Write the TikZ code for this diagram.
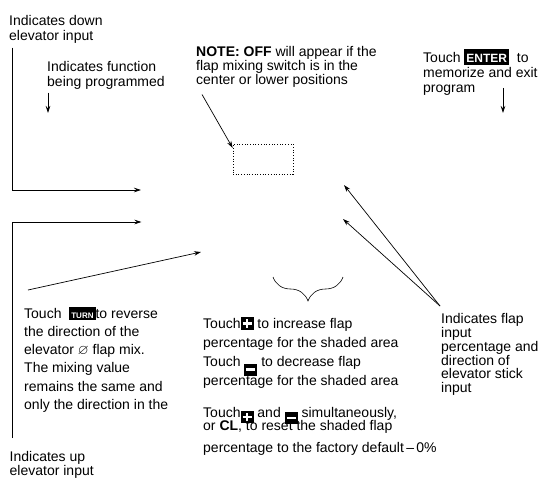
\documentclass[tikz,border=0pt]{standalone}
\usepackage{amssymb}
\usepackage{fontspec}
\setmainfont{Liberation Sans}
\usetikzlibrary{arrows.meta,positioning,calc,decorations.pathreplacing}

\newcommand{\keycap}[3]{{\setlength{\fboxsep}{2pt}\colorbox{black}{\rule{0pt}{#2}\textcolor{white}{\fontsize{#1}{#1}\selectfont\bfseries #3}}}}
\newcommand{\plusbtn}[1][1pt]{\smash{\raisebox{#1}{\setlength{\fboxsep}{2pt}\colorbox{black}{\rule{0pt}{8pt}\textcolor{white}{\makebox[9pt][l]{\rule[3pt]{9pt}{2.4pt}}\hspace{-9pt}\makebox[9pt]{\rule[0pt]{2.4pt}{8.4pt}}}}}}}
\newcommand{\minusbtn}[1][-7pt]{\smash{\raisebox{#1}{\setlength{\fboxsep}{2pt}\colorbox{black}{\rule{0pt}{8pt}\textcolor{white}{\rule[3pt]{9pt}{2.4pt}}}}}}

\begin{document}
\begin{tikzpicture}[
    x=1pt, y=-1pt,
    lab/.style={align=left, anchor=north west, inner sep=0pt},
    arr/.style={-{Stealth[length=7pt, width=4.5pt]}, line width=0.7pt},
]
    \useasboundingbox (0,0) rectangle (543,479);
    \node[lab, font=\fontsize{14}{14.7}\selectfont] (downlab) at (9,15) {Indicates down\\elevator input};
    \node[lab, font=\fontsize{14}{15.6}\selectfont] (funclab) at (47,61) {Indicates function\\being programmed};
    \node[lab, font=\fontsize{14}{14}\selectfont] (notelab) at (196,46.5) {\textbf{NOTE: OFF} will appear if the\\flap mixing switch is in the\\center or lower positions};
    \node[lab, font=\fontsize{14}{15}\selectfont] (enterlab) at (423,48.5) {Touch \keycap{12}{12pt}{ENTER}\ \ to\\memorize and exit\\program};
    \node[lab, font=\fontsize{14}{18.2}\selectfont] (turnlab) at (24,306.5) {Touch\ \ \keycap{8}{9.5pt}{TURN}to reverse\\the direction of the\\elevator $\varnothing$ flap mix.\\The mixing value\\remains the same and\\only the direction in the};
    \node[lab, font=\fontsize{14}{14}\selectfont] (uplab) at (9.5,451) {Indicates up\\elevator input};
    \node[lab, font=\fontsize{14}{19}\selectfont] (incrlab) at (203,318.5) {Touch\plusbtn\ to increase flap\\percentage for the shaded area\\Touch \minusbtn\ to decrease flap\\percentage for the shaded area};
    \node[lab, font=\fontsize{14}{19}\selectfont] (resetlab) at (203,407) {Touch\plusbtn[-4pt]\ and \minusbtn[-5pt]\ simultaneously,\\[-6pt]or \textbf{CL}, to reset the shaded flap\\[3pt]percentage to the factory default\,--\,0\%};
    \node[lab, font=\fontsize{14}{13.9}\selectfont] (flaplab) at (441,313) {Indicates flap\\input\\percentage and\\direction of\\elevator stick\\input};
    \node[draw, dotted, line width=0.7pt, minimum width=60pt, minimum height=30pt, inner sep=0pt] (offbox) at (263,159) {};

    \coordinate (downtip) at (141,190);
    \coordinate (uptip) at (141.5,222);
    \coordinate (functip) at (48,113);
    \coordinate (entertip) at (503,113);
    \coordinate (turntip) at (201,252);
    \coordinate (flaptipa) at (344,185);
    \coordinate (flaptipb) at (343,219);
    \coordinate (bracel) at (273,277);
    \coordinate (bracer) at (343,277);

    \draw[arr] ([shift={(3,4.5)}]downlab.south west) |- (downtip);
    \draw[arr] ([shift={(3,-13)}]uplab.north west) |- (uptip);
    \draw[arr] ([shift={(1,2.5)}]funclab.south west) -- (functip);
    \draw[arr] ([shift={(6,6.5)}]notelab.south west) -- (offbox.160);
    \draw[arr] ([shift={(80,-8)}]enterlab.south west) -- (entertip);
    \draw[arr] ([shift={(4,-16.5)}]turnlab.north west) -- (turntip);
    \foreach \t in {flaptipa, flaptipb} {
        \draw[arr] ([shift={(-1,-7)}]flaplab.north west) -- (\t);
    }
    \draw[decorate, decoration={brace, mirror, amplitude=24pt}, line width=0.6pt] (bracel) -- (bracer);
\end{tikzpicture}
\end{document}
